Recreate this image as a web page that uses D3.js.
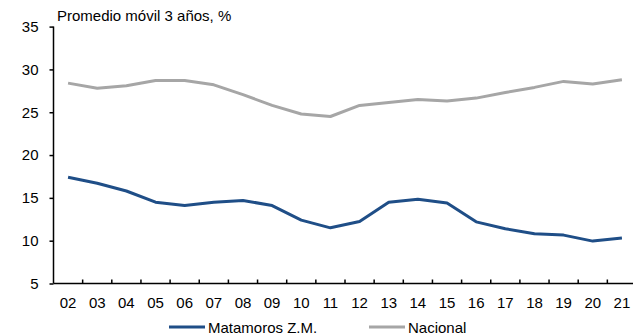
<!DOCTYPE html>
<html lang="es">
    <head>
        <meta charset="utf-8">
        <title>Promedio móvil 3 años</title>
        <style>
            body { margin: 0; background: #fff; }
            svg text { font-family: "Liberation Sans", Arial, sans-serif; fill: #000; }
        </style>
    </head>
    <body>
        <div id="chart"></div>
        <script src="https://cdn.jsdelivr.net/npm/d3@7"></script>
        <script>
            const years = ["02","03","04","05","06","07","08","09","10","11","12","13","14","15","16","17","18","19","20","21"];
            const matamoros = [17.4,16.7,15.8,14.5,14.1,14.5,14.7,14.1,12.4,11.5,12.25,14.5,14.85,14.4,12.2,11.4,10.8,10.65,9.95,10.3];
            const nacional = [28.4,27.8,28.1,28.7,28.7,28.2,27.05,25.8,24.8,24.5,25.8,26.15,26.5,26.3,26.65,27.3,27.9,28.6,28.3,28.8];
            const yTicks = [5,10,15,20,25,30,35];
            const seriesNames = ["Matamoros Z.M.", "Nacional"];
            const seriesColors = ["#1F4E87", "#A6A6A6"];

            const W = 633, H = 336;
            const mLeft = 53.5, mRight = 636.5, mTop = 26.6, mBottom = 283.5;

            const svg = d3.select("#chart").append("svg")
                .attr("width", W)
                .attr("height", H);

            const x = d3.scaleBand().domain(years).range([mLeft, mRight]);
            const y = d3.scaleLinear().domain([5, 35]).range([mBottom, mTop]);

            // y axis
            const yAxis = svg.append("g")
                .attr("transform", "translate(" + mLeft + ",0)")
                .call(d3.axisLeft(y).tickValues(yTicks).tickSize(4).tickPadding(5).tickFormat(d3.format("d")));
            yAxis.select(".domain").attr("stroke", "#000").attr("stroke-width", 1.5).attr("d", "M0," + mTop + "V" + mBottom);
            yAxis.selectAll(".tick line").attr("stroke", "#000").attr("stroke-width", 1.5);
            yAxis.selectAll("text").attr("font-size", 15).attr("dx", -6);

            // x axis, ticks at band edges pointing up
            const xAxis = svg.append("g")
                .attr("transform", "translate(0," + mBottom + ")");
            xAxis.append("line")
                .attr("x1", mLeft).attr("x2", mRight)
                .attr("stroke", "#000").attr("stroke-width", 1.5);
            xAxis.selectAll("line.tk")
                .data(years.slice(1))
                .join("line")
                .attr("class", "tk")
                .attr("x1", d => x(d)).attr("x2", d => x(d))
                .attr("y1", 0).attr("y2", -4)
                .attr("stroke", "#000").attr("stroke-width", 1.5);
            xAxis.selectAll("text")
                .data(years)
                .join("text")
                .attr("x", d => x(d) + x.bandwidth() / 2)
                .attr("y", 24)
                .attr("text-anchor", "middle")
                .attr("font-size", 15)
                .text(d => d);

            const line = d3.line()
                .x((d, i) => x(years[i]) + x.bandwidth() / 2)
                .y(d => y(d));

            [matamoros, nacional].forEach((s, k) => {
                svg.append("path")
                    .datum(s)
                    .attr("d", line)
                    .attr("fill", "none")
                    .attr("stroke", seriesColors[k])
                    .attr("stroke-width", 3)
                    .attr("stroke-linejoin", "round");
            });

            // title
            svg.append("text")
                .attr("x", 57)
                .attr("y", 20.5)
                .attr("font-size", 15)
                .text("Promedio móvil 3 años, %");

            // legend
            const legendX = [169, 369];
            seriesNames.forEach((n, k) => {
                const g = svg.append("g").attr("transform", "translate(" + legendX[k] + ",327)");
                g.append("line").attr("x1", 0).attr("x2", 36)
                    .attr("stroke", seriesColors[k]).attr("stroke-width", 3);
                g.append("text").attr("x", 39).attr("y", 5.5)
                    .attr("font-size", 15).text(n);
            });
        </script>
    </body>
</html>
